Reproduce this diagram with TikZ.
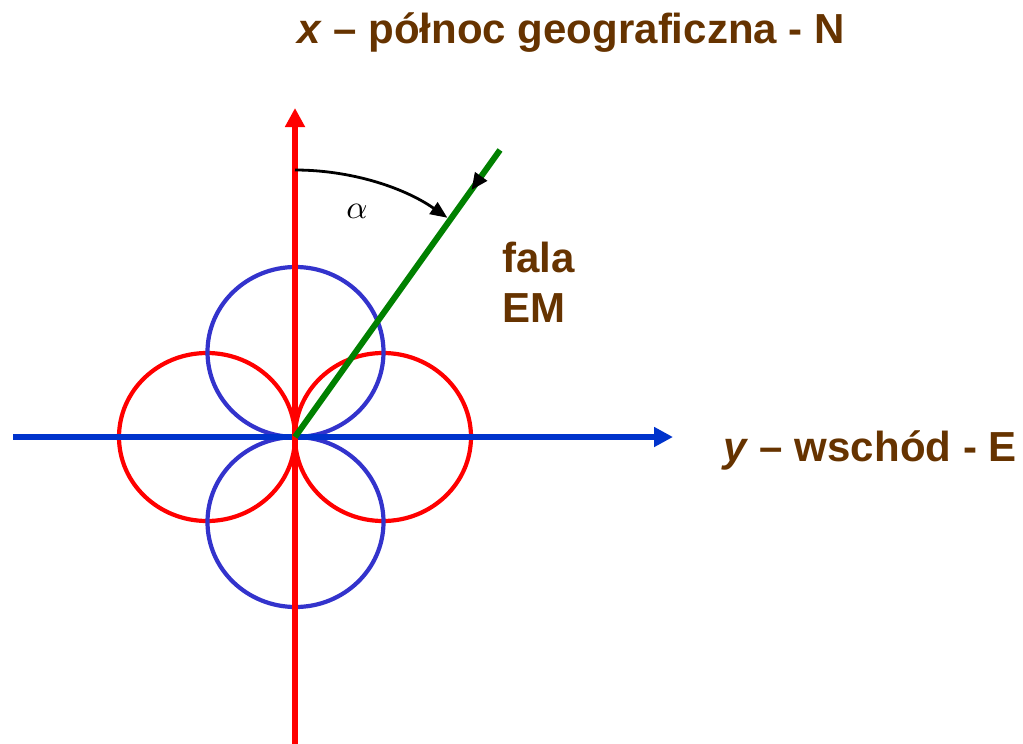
\documentclass[tikz,border=0pt]{standalone}
\usepackage{fontspec}
\setmainfont{Liberation Sans}
\usetikzlibrary{arrows.meta,decorations.markings}
\definecolor{brown}{HTML}{663300}
\definecolor{axisred}{HTML}{FF0000}
\definecolor{axisblue}{HTML}{0033CC}
\definecolor{circblue}{HTML}{3333CC}
\definecolor{wavegreen}{HTML}{008000}
\tikzset{
  axis/.style={line width=6pt,-{Triangle[length=19pt,width=19pt]}},
  loop/.style={line width=4.2pt},
  lbl/.style={text=brown,font=\fontsize{42}{51}\selectfont\bfseries,inner sep=0pt},
}
\begin{document}
\begin{tikzpicture}[x=1pt,y=-1pt]
\useasboundingbox (0,0) rectangle (1023,744);
\coordinate (O) at (295,437);
\coordinate (Nbot) at (295,744);
\coordinate (Ntop) at (295,108);
\coordinate (Wleft) at (13,437);
\coordinate (Eright) at (673,437);
% lobes
\draw[loop,axisred] (207,437) ellipse[x radius=88,y radius=84];
\draw[loop,axisred] (383,437) ellipse[x radius=88,y radius=84];
\draw[loop,circblue] (295.5,352) ellipse[x radius=88,y radius=85];
\draw[loop,circblue] (295.5,522) ellipse[x radius=88,y radius=85];
% axes
\draw[axis,axisblue] (Wleft) -- (Eright);
\draw[axis,axisred] (Nbot) -- (Ntop);
% wave
\coordinate (G) at (500,150);
\draw[wavegreen,line width=6pt,
  postaction={decorate,decoration={markings,mark=at position 0.14 with {\arrow[black]{Triangle[length=17pt,width=14pt]}}}}]
  (G) -- (O);
% angle arc
\draw[black,line width=2.8pt,-{Triangle[length=17pt,width=14pt]}]
  (O) ++(0,-267) arc[start angle=-90,end angle=-55.2,radius=267];
\node[scale=3.3] (alpha) at (357,211) {$\alpha$};
% labels
\node[lbl,anchor=base west] (title) at (297,43) {\textit{x} – północ geograficzna - N};
\node[lbl,anchor=base west] (fala) at (502,272) {fala};
\node[lbl,anchor=base west] (em) at (502,322) {EM};
\node[lbl,anchor=base west] (east) at (723,461) {\textit{y} – wschód - E};
\end{tikzpicture}
\end{document}
